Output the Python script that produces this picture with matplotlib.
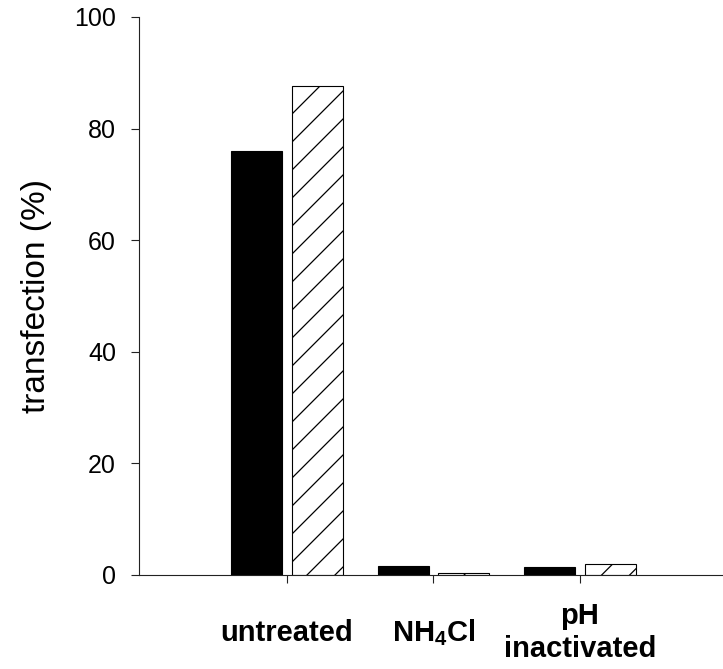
import matplotlib
matplotlib.use("Agg")
import matplotlib.pyplot as plt
import numpy as np
from matplotlib.lines import Line2D
from matplotlib.transforms import IdentityTransform

plt.rcParams["font.family"] = ["Liberation Sans", "DejaVu Sans"]
plt.rcParams["mathtext.fontset"] = "custom"
plt.rcParams["mathtext.rm"] = "Liberation Sans:bold"
plt.rcParams["mathtext.it"] = "Liberation Sans:bold"
plt.rcParams["mathtext.bf"] = "Liberation Sans:bold"

# data
categories = ["untreated", "NH$_4$Cl", "pH\ninactivated"]
solid_values = [76.0, 1.6, 1.4]
hatched_values = [87.6, 0.4, 2.0]
y_ticks = [0, 20, 40, 60, 80, 100]

fig = plt.figure(figsize=(7.23, 6.69), dpi=100)
ax = fig.add_axes([139 / 723, 94 / 669, 1 - 139 / 723, 558 / 669])

x = np.arange(len(categories))
width = 0.348
offset = 0.207

ax.bar(x - offset, solid_values, width, color="black", edgecolor="black",
       linewidth=0.8)
hbars = ax.bar(x + offset, hatched_values, width, color="white",
               edgecolor="black", linewidth=0.8, zorder=2)

ax.set_xlim(-1.01, 2.976)
ax.set_ylim(0, 100)
ax.set_yticks(y_ticks)
ax.set_yticklabels([str(t) for t in y_ticks])
ax.set_xticks(x)
ax.set_xticklabels(categories, fontsize=21, fontweight="bold")
for lab in ax.get_xticklabels():
    lab.set_verticalalignment("center")
    lab.set_multialignment("center")

ax.spines["top"].set_visible(False)
ax.spines["right"].set_visible(False)
for s in ("left", "bottom"):
    ax.spines[s].set_linewidth(0.8)
    ax.spines[s].set_color("#222222")
ax.tick_params(axis="y", direction="out", length=5.5, width=0.8,
               labelsize=18, pad=11, color="#222222")
ax.tick_params(axis="x", direction="out", length=5.5, width=0.8,
               pad=36, color="#222222")
ax.set_ylabel("transfection (%)", fontsize=24, labelpad=16)

# sparse diagonal hatching drawn in pixel space, clipped to each bar
spacing = 28
for bar in hbars:
    x0, y0 = ax.transData.transform((bar.get_x(), 0))
    x1, y1 = ax.transData.transform((bar.get_x() + bar.get_width(),
                                     bar.get_height()))
    c_start = (y0 - x1) - spacing
    c = y1 - x0
    while c > c_start:
        xs = np.array([x0 - 5, x1 + 5])
        ln = Line2D(xs, xs + c, transform=IdentityTransform(),
                    color="black", linewidth=0.9, zorder=3)
        ln.set_clip_path(bar)
        fig.add_artist(ln)
        c -= spacing

fig.savefig("out.png", dpi=100)
